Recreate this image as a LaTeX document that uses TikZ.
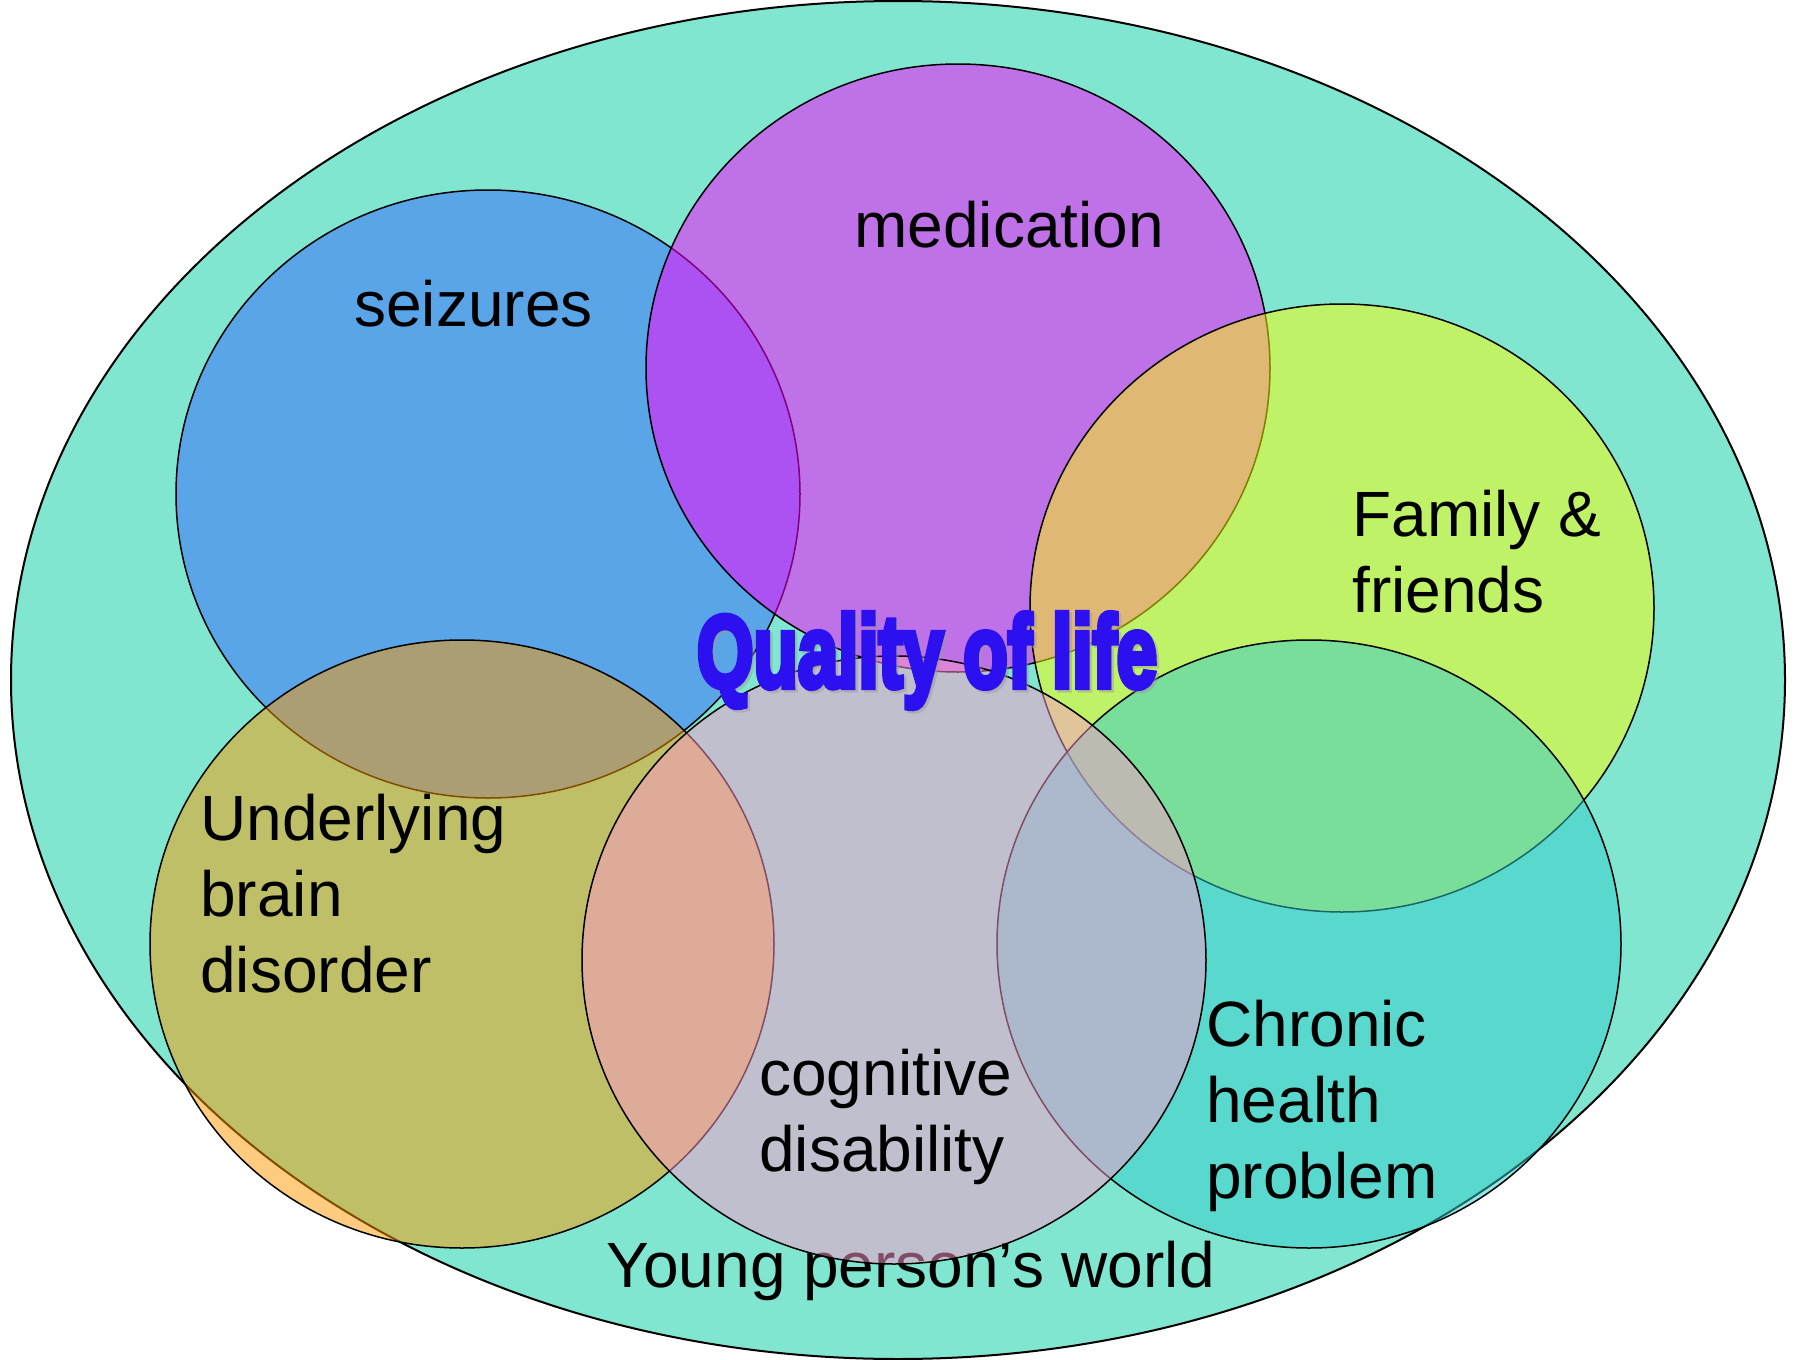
\documentclass[tikz,border=0pt]{standalone}
\usepackage{fontspec}
\setmainfont{Liberation Sans}
\newfontfamily\headfont[BoldFeatures={FakeBold=6}]{Liberation Sans}
\usepackage{graphicx}

\definecolor{worldfill}{RGB}{128,230,208}
\definecolor{seizfill}{RGB}{51,102,255}
\definecolor{medfill}{RGB}{255,0,255}
\definecolor{famfill}{RGB}{255,255,0}
\definecolor{brainfill}{RGB}{255,153,0}
\definecolor{cogfill}{RGB}{255,153,204}
\definecolor{chronfill}{RGB}{51,204,204}
\definecolor{qolblue}{RGB}{44,16,240}

\newcommand{\qoltext}{\resizebox{230pt}{37pt}{\headfont\bfseries Quality of life}}

\begin{document}
\begin{tikzpicture}[x=0.5pt,y=-0.5pt,
  ring/.style={fill opacity=0.5, draw=black, line width=0.75pt},
  lbl/.style={font=\fontsize{32pt}{38pt}\selectfont, inner sep=0pt, anchor=base west}]

  \useasboundingbox (0,0) rectangle (1801,1360);
  \fill[white] (0,0) rectangle (1801,1360);

  % the young person's world
  \draw[fill=worldfill, line width=1pt] (898,680) ellipse [x radius=443.5pt, y radius=339.5pt];
  \node[lbl] (world) at (606,1287) {Young person’s world};

  % overlapping influences, translucent
  \path[ring, fill=seizfill]  (488,494)  ellipse [x radius=156pt, y radius=152pt];
  \path[ring, fill=medfill]   (958,368)  ellipse [x radius=156pt, y radius=152pt];
  \path[ring, fill=famfill]   (1342,608) ellipse [x radius=156pt, y radius=152pt];
  \path[ring, fill=brainfill] (462,944)  ellipse [x radius=156pt, y radius=152pt];
  \path[ring, fill=chronfill] (1309,944) ellipse [x radius=156pt, y radius=152pt];
  \path[ring, fill=cogfill]   (894,960)  ellipse [x radius=156pt, y radius=152pt];

  % labels
  \node[lbl] (seiz) at (354,326) {seizures};
  \node[lbl] (med) at (854,247) {medication};
  \node[lbl] (fam) at (1352,536) {\begin{tabular}[t]{@{}l@{}}Family \&\\friends\end{tabular}};
  \node[lbl] (brain) at (200,840) {\begin{tabular}[t]{@{}l@{}}Underlying\\brain\\disorder\end{tabular}};
  \node[lbl] (cog) at (759,1095) {\begin{tabular}[t]{@{}l@{}}cognitive\\disability\end{tabular}};
  \node[lbl] (chron) at (1206,1046) {\begin{tabular}[t]{@{}l@{}}Chronic\\health\\problem\end{tabular}};

  % centre title with soft shadow
  \node[inner sep=0pt, anchor=base, text=black!40, text opacity=0.45] (qolshadow) at (929.5,689.5) {\qoltext};
  \node[inner sep=0pt, anchor=base, text=qolblue] (qol) at (927,687) {\qoltext};
\end{tikzpicture}
\end{document}
